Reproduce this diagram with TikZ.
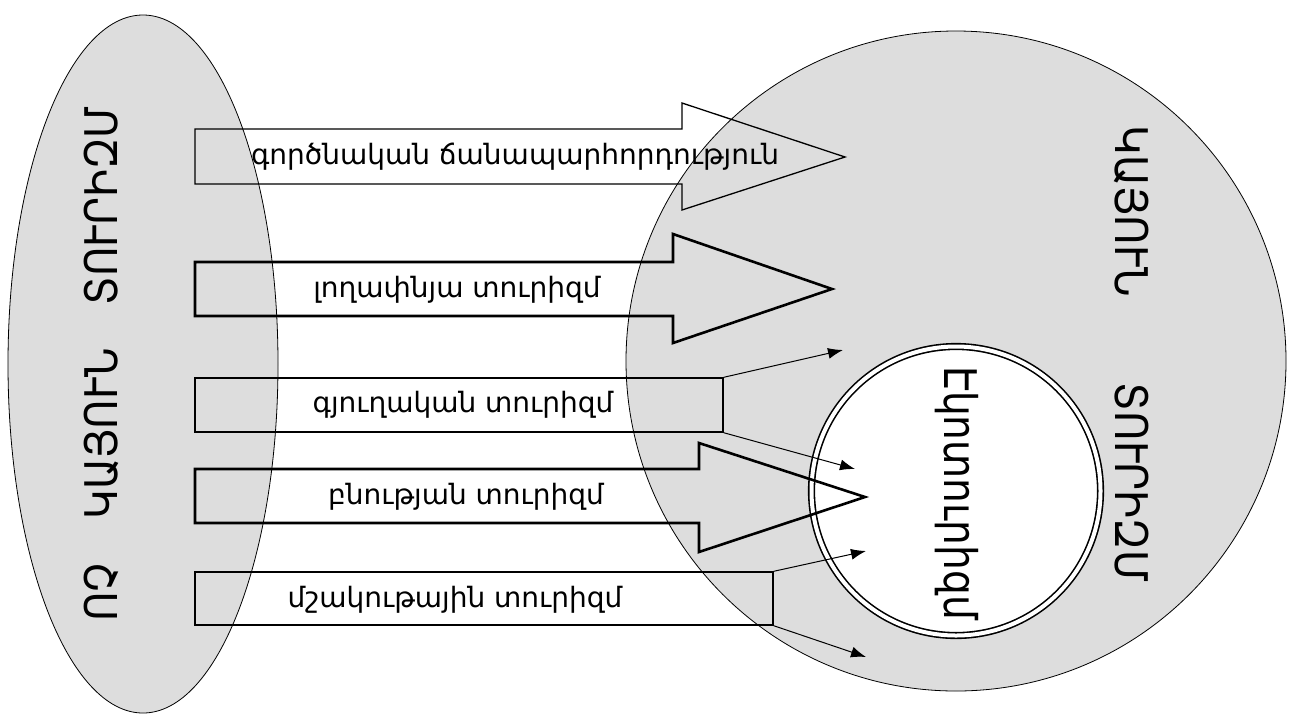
\documentclass[tikz,border=0pt]{standalone}
\usepackage{fontspec}
\setmainfont{DejaVu Sans}
\newfontfamily\arm{DejaVu Sans}
\newfontfamily\armbig{DejaVu Sans}[FakeStretch=0.9]
\newfontfamily\armeco{DejaVu Sans}[FakeStretch=0.87]
\usetikzlibrary{arrows.meta}
\definecolor{fillgray}{RGB}{221,221,221}
\begin{document}
\begin{tikzpicture}[x=1pt,y=-1pt,
  lbl/.style={font=\arm\fontsize{28}{32}\selectfont, inner sep=0pt},
  bigl/.style={font=\armbig\fontsize{45}{50}\selectfont, inner sep=0pt},
  ecol/.style={font=\armeco\fontsize{45}{50}\selectfont, inner sep=0pt},
  thinarrow/.style={line width=1.3pt, line join=miter},
  thickarrow/.style={line width=2.6pt, line join=miter},
  boxn/.style={draw, line width=1.4pt, rectangle, inner sep=0pt},
  conn/.style={-{Latex[length=15pt,width=11pt]}, line width=1pt},
  area/.style={fill=fillgray, draw, line width=0.8pt}]
\useasboundingbox (0,0) rectangle (1289,713);
% areas
\draw[area] (143,364) ellipse [x radius=135, y radius=349];
\draw[area] (956,361) circle [radius=330];
\node[circle, draw, fill=white, double, double distance=4pt, line width=1.6pt,
      minimum size=289pt, inner sep=0pt] (eco) at (956,491) {};
% arrows and boxes
\draw[thinarrow] (195,129) -- (682,129) -- (682,103) -- (845,157) -- (682,210) -- (682,184) -- (195,184) -- cycle;
\draw[thickarrow] (195,262) -- (673,262) -- (673,234) -- (832,289) -- (673,343) -- (673,316) -- (195,316) -- cycle;
\node[boxn, minimum width=528pt, minimum height=54pt] (b3) at (459,405) {};
\draw[thickarrow] (195,469) -- (699,469) -- (699,443) -- (865,497) -- (699,552) -- (699,523) -- (195,523) -- cycle;
\node[boxn, minimum width=578pt, minimum height=53pt] (b5) at (484,598.5) {};
% connectors
\coordinate (c1) at (843,350);
\coordinate (c2) at (855,469);
\coordinate (c3) at (866,551);
\coordinate (c4) at (866,657);
\draw[conn] (b3.north east) -- (c1);
\draw[conn] (b3.south east) -- (c2);
\draw[conn] (b5.north east) -- (c3);
\draw[conn] (b5.south east) -- (c4);
% labels
\node[lbl] (t1) at (515,157) {գործնական ճանապարհորդություն};
\node[lbl] (t2) at (457,290) {լողափնյա տուրիզմ};
\node[lbl] (t3) at (463,405) {գյուղական տուրիզմ};
\node[lbl] (t4) at (466,497) {բնության տուրիզմ};
\node[lbl] (t5) at (455,600) {մշակութային տուրիզմ};
\node[bigl, rotate=90] (left) at (101.5,364) {ՈՉ\hspace{44pt}ԿԱՅՈՒՆ\hspace{43pt}ՏՈՒՐԻԶՄ};
\node[bigl, rotate=-90] (right) at (1131.5,354) {ԿԱՅՈՒՆ\hspace{86pt}ՏՈՒՐԻԶՄ};
\node[ecol, rotate=-90] (ecot) at (957,493) {Էկոտուրիզմ};
\end{tikzpicture}
\end{document}
